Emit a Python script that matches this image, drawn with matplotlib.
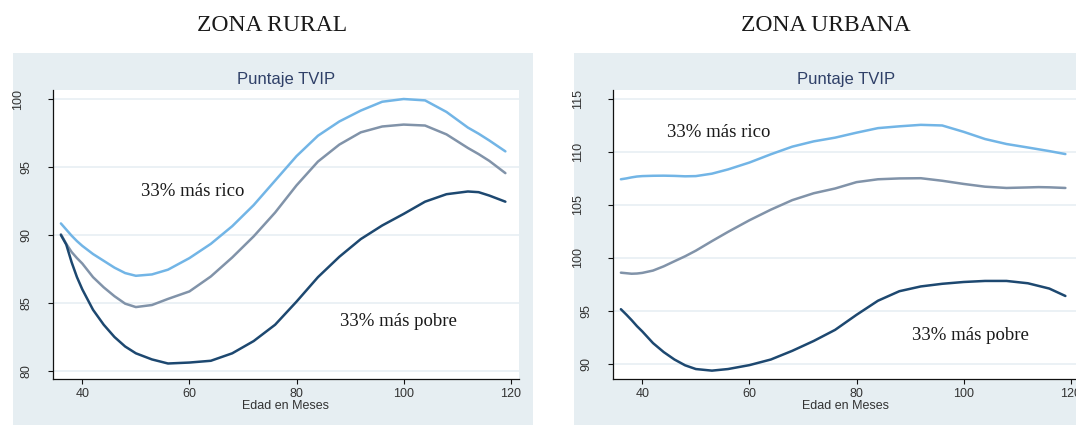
import matplotlib
matplotlib.use("Agg")
import matplotlib.pyplot as plt
from matplotlib.patches import Rectangle
from matplotlib.transforms import ScaledTranslation

# --- datos (edad en meses vs puntaje TVIP) ---
edad = [36, 37, 38, 39, 40, 42, 44, 46, 48, 50, 53, 56, 60, 64, 68, 72, 76,
        80, 84, 88, 92, 96, 100, 104, 108, 112, 114, 116, 119]

rural_rico = [90.85, 90.4, 89.95, 89.55, 89.2, 88.6, 88.1, 87.6, 87.2, 87.0,
              87.1, 87.45, 88.3, 89.35, 90.65, 92.2, 94.0, 95.8, 97.3, 98.35,
              99.15, 99.8, 100.0, 99.9, 99.05, 97.9, 97.45, 96.95, 96.15]
rural_medio = [90.05, 89.35, 88.75, 88.3, 87.9, 86.9, 86.15, 85.5, 84.95, 84.7,
               84.85, 85.3, 85.85, 86.95, 88.35, 89.9, 91.65, 93.65, 95.4, 96.65,
               97.55, 97.98, 98.12, 98.05, 97.4, 96.4, 95.95, 95.45, 94.55]
rural_pobre = [90.0, 89.3, 88.0, 86.9, 86.0, 84.5, 83.4, 82.5, 81.8, 81.3,
               80.85, 80.55, 80.62, 80.75, 81.3, 82.2, 83.4, 85.1, 86.9, 88.4,
               89.7, 90.7, 91.55, 92.45, 93.0, 93.2, 93.15, 92.9, 92.45]

urbana_rico = [107.42, 107.5, 107.6, 107.68, 107.72, 107.75, 107.76, 107.74,
               107.7, 107.72, 107.95, 108.35, 109.0, 109.78, 110.5, 111.0,
               111.35, 111.82, 112.25, 112.42, 112.56, 112.5, 111.9, 111.22,
               110.75, 110.42, 110.25, 110.08, 109.8]
urbana_medio = [98.6, 98.55, 98.5, 98.52, 98.58, 98.8, 99.2, 99.68, 100.15,
                100.68, 101.58, 102.45, 103.55, 104.55, 105.45, 106.1, 106.55,
                107.15, 107.42, 107.5, 107.52, 107.28, 106.98, 106.72, 106.6,
                106.65, 106.68, 106.66, 106.6]
urbana_pobre = [95.15, 94.65, 94.12, 93.55, 93.05, 91.95, 91.1, 90.4, 89.85,
                89.5, 89.35, 89.5, 89.87, 90.4, 91.22, 92.15, 93.2, 94.62, 95.95,
                96.85, 97.3, 97.55, 97.72, 97.82, 97.82, 97.6, 97.35, 97.1, 96.4]

xticks = [40, 60, 80, 100, 120]
yticks_rural = [80, 85, 90, 95, 100]
yticks_urbana = [90, 95, 100, 105, 110, 115]

col_rico = "#72b5e6"
col_medio = "#8193a9"
col_pobre = "#1d4870"
fondo = "#e6eef2"
grilla = "#e9f0f4"

W, H = 1076, 425
fig = plt.figure(figsize=(W / 100, H / 100), dpi=100)
fig.patch.set_facecolor("white")

sans = "Liberation Sans"
serif = "Liberation Serif"

# fondos gris azulado de cada panel
for x0 in (13.3, 574):
    fig.add_artist(Rectangle((x0 / W, 0), 519.4 / W, (425 - 53.3) / H,
                             transform=fig.transFigure, facecolor=fondo,
                             edgecolor="none", zorder=-1))

ax1 = fig.add_axes([52.7 / W, 1 - 379 / H, 466.6 / W, 289.5 / H])
ax2 = fig.add_axes([612.7 / W, 1 - 379 / H, 466.6 / W, 289.0 / H])

paneles = [
    (ax1, rural_rico, rural_medio, rural_pobre, yticks_rural, (79.41, 100.7),
     [(60.67, 92.89), (98.95, 83.33)]),
    (ax2, urbana_rico, urbana_medio, urbana_pobre, yticks_urbana, (88.56, 115.85),
     [(54.28, 111.44), (101.36, 92.24)]),
]

for ax, rico, medio, pobre, yt, ylim, pos in paneles:
    ax.set_facecolor("white")
    ax.plot(edad, rico, color=col_rico, lw=1.8, solid_capstyle="round")
    ax.plot(edad, medio, color=col_medio, lw=1.8, solid_capstyle="round")
    ax.plot(edad, pobre, color=col_pobre, lw=1.8, solid_capstyle="round")
    ax.set_xlim(34.47, 121.6)
    ax.set_ylim(*ylim)
    ax.set_xticks(xticks)
    ax.set_yticks(yt)
    ax.grid(axis="y", color=grilla, lw=1.3)
    ax.set_axisbelow(True)
    for s in ("top", "right"):
        ax.spines[s].set_visible(False)
    for s in ("left", "bottom"):
        ax.spines[s].set_color("#111111")
        ax.spines[s].set_linewidth(0.9)
    ax.tick_params(direction="out", length=3.8, width=0.8, color="#111111",
                   labelsize=9, labelcolor="#333333")
    ax.tick_params(axis="x", pad=3)
    ax.tick_params(axis="y", pad=11)
    # etiquetas verticales; las de tres cifras van un poco mas a la izquierda
    for tick, v in zip(ax.yaxis.get_major_ticks(), yt):
        lab = tick.label1
        lab.set_rotation(90)
        lab.set_va("center")
        lab.set_family(sans)
        if v >= 100:
            lab.set_transform(lab.get_transform() +
                              ScaledTranslation(-0.08, 0, fig.dpi_scale_trans))
    for lab in ax.get_xticklabels():
        lab.set_family(sans)
    ax.set_title("Puntaje TVIP", fontsize=12, color="#2f4068", family=sans, pad=4)
    ax.set_xlabel("Edad en Meses", fontsize=9, color="#333333", family=sans,
                  labelpad=0)
    ax.text(pos[0][0], pos[0][1], "33% más rico", family=serif, fontsize=13.5,
            ha="center", va="baseline", color="#1a1a1a")
    ax.text(pos[1][0], pos[1][1], "33% más pobre", family=serif, fontsize=13.5,
            ha="center", va="baseline", color="#1a1a1a")

fig.text(272.5 / W, 1 - 30.7 / H, "ZONA RURAL", family=serif, fontsize=17,
         ha="center", va="baseline", color="#1a1a1a")
fig.text(826 / W, 1 - 30.7 / H, "ZONA URBANA", family=serif, fontsize=17,
         ha="center", va="baseline", color="#1a1a1a")

fig.savefig("out.png", dpi=100, facecolor="white")
